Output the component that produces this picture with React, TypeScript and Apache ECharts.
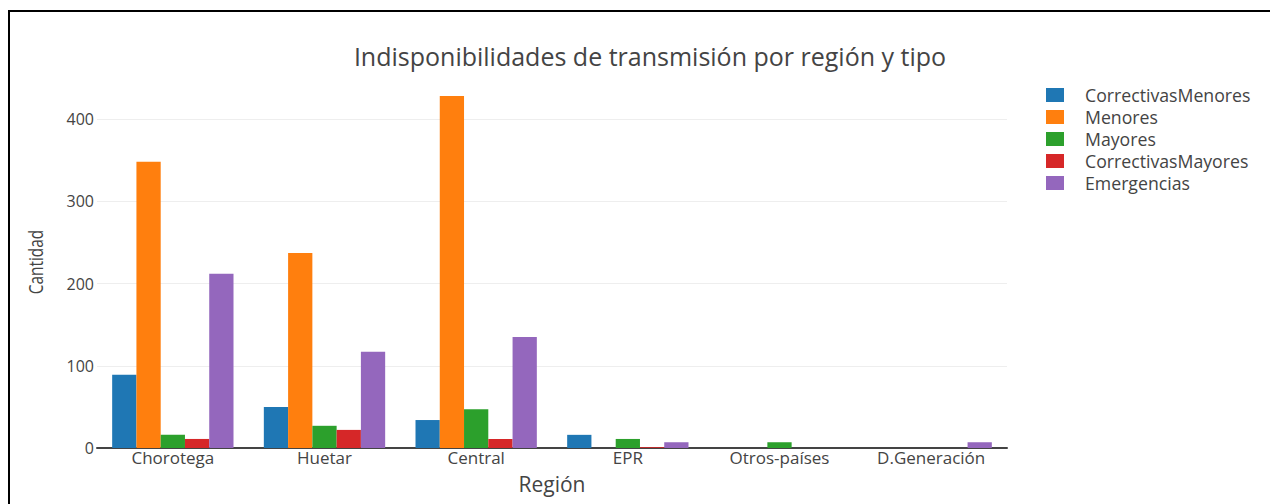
import React, { useEffect, useRef } from "react";
import * as echarts from "echarts";

const categories = ["Chorotega", "Huetar", "Central", "EPR", "Otros-países", "D.Generación"];
const seriesNames = ["CorrectivasMenores", "Menores", "Mayores", "CorrectivasMayores", "Emergencias"];
const correctivasMenores = [89, 50, 34, 16, 0, 0];
const menores = [348, 237, 428, 0, 0, 0];
const mayores = [16, 27, 47, 11, 7, 0];
const correctivasMayores = [11, 22, 11, 1, 0, 0];
const emergencias = [212, 117, 135, 7, 0, 7];
const yTicks = [0, 100, 200, 300, 400];
const colors = ["#1f77b4", "#ff7f0e", "#2ca02c", "#d62728", "#9467bd"];

const FONT = "'Open Sans', sans-serif";

export default function App() {
  const ref = useRef<HTMLDivElement>(null);
  useEffect(() => {
    if (!ref.current) return;
    const chart = echarts.init(ref.current, null, { renderer: "svg" });
    const values = [correctivasMenores, menores, mayores, correctivasMayores, emergencias];
    chart.setOption({
      animation: false,
      color: colors,
      title: {
        text: "Indisponibilidades de transmisión por región y tipo",
        left: 645,
        textAlign: "center",
        top: 38,
        textStyle: { fontFamily: FONT, fontSize: 25, fontWeight: "normal", color: "#444" },
      },
      legend: {
        orient: "vertical",
        left: 1041,
        top: 81,
        itemWidth: 18,
        itemHeight: 14,
        itemGap: 4,
        icon: "rect",
        textStyle: { fontFamily: FONT, fontSize: 17.7, color: "#444", lineHeight: 14, padding: [0, 0, 0, 16] },
        data: seriesNames,
      },
      grid: { left: 97, right: 263, top: 119, bottom: 56, containLabel: false },
      xAxis: {
        type: "category",
        data: categories,
        name: "Región",
        nameLocation: "middle",
        nameGap: 25,
        nameTextStyle: { fontFamily: FONT, fontSize: 21, color: "#444" },
        axisLine: { lineStyle: { color: "#444", width: 2 } },
        axisTick: { show: false },
        axisLabel: { fontFamily: FONT, fontSize: 17, color: "#444", margin: 1 },
      },
      yAxis: {
        type: "value",
        min: yTicks[0],
        max: yTicks[yTicks.length - 1],
        interval: 100,
        axisLine: { show: false },
        axisTick: { show: false },
        axisLabel: { fontFamily: FONT, fontSize: 16, color: "#444", margin: 3 },
        splitLine: { lineStyle: { color: "#eee", width: 1 } },
      },
      graphic: [
        { type: "rect", shape: { x: 8, y: 10, width: 2, height: 494 }, style: { fill: "#000" } },
        { type: "rect", shape: { x: 8, y: 10, width: 1262, height: 2 }, style: { fill: "#000" } },
        {
          type: "text",
          x: 35,
          y: 262,
          rotation: Math.PI / 2,
          scaleX: 0.77,
          style: {
            text: "Cantidad",
            fontFamily: FONT,
            fontSize: 20,
            fill: "#444",
            align: "center",
            verticalAlign: "middle",
          },
        },
      ],
      series: seriesNames.map((name, i) => ({
        name,
        type: "bar",
        data: values[i],
        barGap: "0%",
        barCategoryGap: "20%",
        clip: false,
        itemStyle: { color: colors[i] },
      })),
    });
    return () => chart.dispose();
  }, []);
  return (
    <div style={{ position: "fixed", left: 0, top: 0, width: 1270, height: 504, background: "#fff" }}>
      <div ref={ref} style={{ width: 1270, height: 504 }} />
    </div>
  );
}
